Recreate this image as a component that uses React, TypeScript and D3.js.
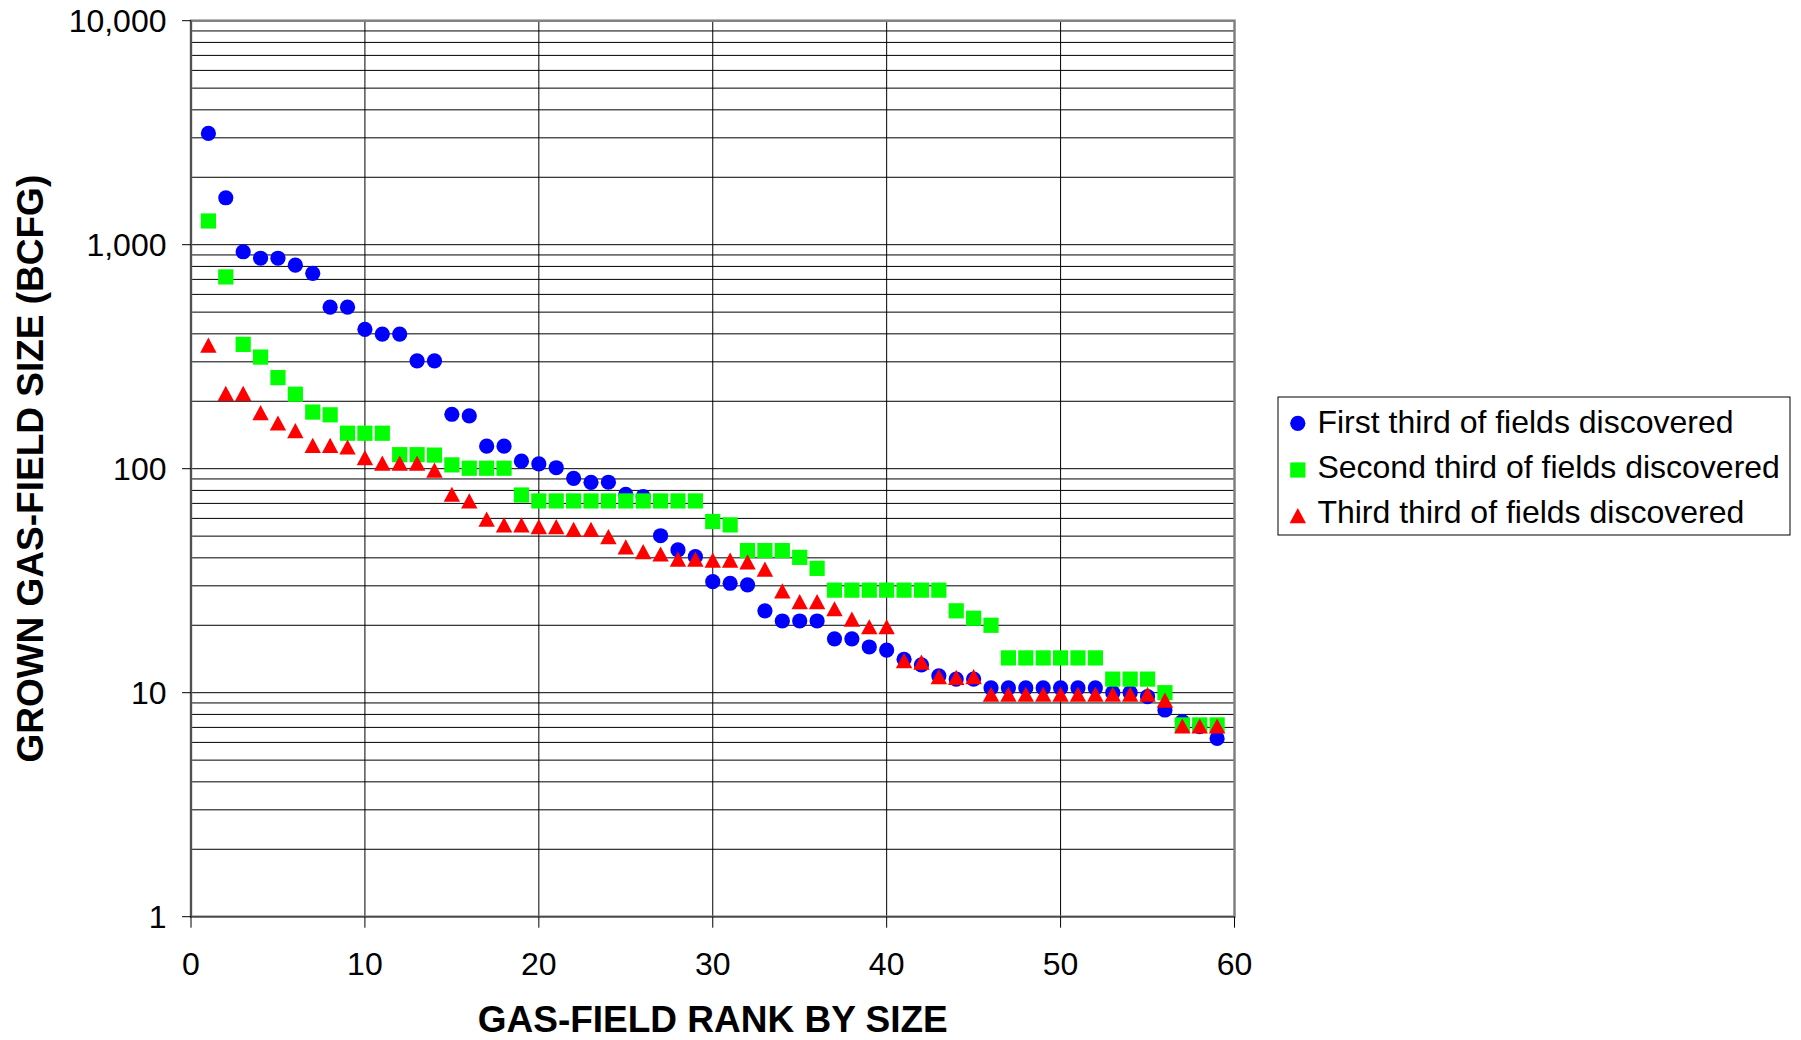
import React from "react";
import * as d3 from "d3";

const ranks: number[] = d3.range(1, 60);

const firstThird: number[] = [
  3140, 1620, 930, 870, 870, 810, 745, 526, 526, 419,
  399, 399, 303, 303, 175, 172, 126, 126, 108, 105,
  101, 90.6, 86.9, 87, 76.9, 75, 50.2, 43.4, 40.5, 31.3,
  30.8, 30.3, 23.2, 20.9, 20.9, 20.9, 17.4, 17.4, 16.0, 15.5,
  14.1, 13.3, 11.9, 11.5, 11.5, 10.5, 10.5, 10.5, 10.5, 10.5,
  10.5, 10.5, 10.0, 10.0, 9.6, 8.37, 7.43, 7.05, 6.25,
];

const secondThird: number[] = [
  1276, 718, 359, 315, 255, 215, 179, 174, 144, 144,
  144, 115.5, 115.5, 115, 104, 100.5, 100.5, 100.5, 76.3, 71.8,
  71.8, 71.8, 71.8, 71.8, 71.8, 71.8, 71.8, 71.8, 71.8, 58.1,
  56.1, 43.1, 43.1, 43.1, 40.2, 35.9, 28.7, 28.7, 28.7, 28.7,
  28.7, 28.7, 28.7, 23.2, 21.5, 20.0, 14.3, 14.3, 14.3, 14.3,
  14.3, 14.3, 11.5, 11.5, 11.5, 10.0, 7.18, 7.18, 7.18,
];

const thirdThird: number[] = [
  356, 217, 217, 178, 160, 148, 127, 127, 125, 112,
  106, 106, 106, 98.6, 76.9, 71.8, 59.6, 56.1, 56.1, 55.1,
  55.1, 53.6, 53.6, 49.7, 44.8, 42.6, 41.6, 39.5, 39.5, 39.1,
  39.1, 38.4, 35.6, 28.5, 25.5, 25.5, 23.7, 21.3, 19.7, 19.7,
  13.9, 13.7, 11.8, 11.7, 11.8, 9.84, 9.84, 9.84, 9.84, 9.84,
  9.84, 9.84, 9.84, 9.84, 9.84, 9.27, 7.1, 7.1, 7.1,
];

const seriesNames: string[] = [
  "First third of fields discovered",
  "Second third of fields discovered",
  "Third third of fields discovered",
];

const xTicks: number[] = [0, 10, 20, 30, 40, 50, 60];
const yTicks: number[] = [1, 10, 100, 1000, 10000];
const yTickLabels: string[] = ["1", "10", "100", "1,000", "10,000"];

const xTitle = "GAS-FIELD RANK BY SIZE";
const yTitle = "GROWN GAS-FIELD SIZE (BCFG)";

const FONT = "'Liberation Sans', Arial, Helvetica, sans-serif";

function Marker({ shape, cx, cy, color }: { shape: string; cx: number; cy: number; color: string }) {
  if (shape === "circle") return <circle cx={cx} cy={cy} r={7.6} fill={color} />;
  if (shape === "square") return <rect x={cx - 7.6} y={cy - 7.6} width={15.2} height={15.2} fill={color} />;
  const w = 8.2;
  const h = 7.6;
  return <path d={`M${cx},${cy - h} L${cx + w},${cy + h} L${cx - w},${cy + h} Z`} fill={color} />;
}

export default function App() {
  const W = 1801;
  const H = 1040;
  const left = 191;
  const right = 1234.5;
  const top = 20.7;
  const bottom = 916.7;

  const x = d3.scaleLinear().domain([0, 60]).range([left, right]);
  const y = d3.scaleLog().domain([1, 10000]).range([bottom, top]);

  const minorY: number[] = [];
  for (let k = 0; k < 4; k++) {
    for (let m = 1; m <= 9; m++) minorY.push(m * Math.pow(10, k));
  }
  minorY.push(10000);

  const series = [
    { name: seriesNames[0], values: firstThird, color: "#0000FF", shape: "circle" },
    { name: seriesNames[1], values: secondThird, color: "#00FF00", shape: "square" },
    { name: seriesNames[2], values: thirdThird, color: "#FF0000", shape: "triangle" },
  ];

  const legendRowY = [423.3, 470, 515.7];
  const legendBase = [433.3, 478, 523.3];

  return (
    <svg
      width={W}
      height={H}
      style={{ position: "absolute", left: 0, top: 0, display: "block", background: "#fff" }}
      fontFamily={FONT}
    >
      <rect x={0} y={0} width={W} height={H} fill="#fff" />
      {minorY.map((v, i) => (
        <line key={"hg" + i} x1={left} x2={right} y1={y(v)} y2={y(v)} stroke="#000" strokeWidth={1} />
      ))}
      {xTicks.slice(1, -1).map((t) => (
        <line key={"vg" + t} x1={x(t)} x2={x(t)} y1={top} y2={bottom} stroke="#000" strokeWidth={1} />
      ))}
      <rect x={left} y={top} width={right - left} height={bottom - top} fill="none" stroke="#808080" strokeWidth={2.5} />
      <line x1={left} x2={left} y1={top} y2={bottom} stroke="#404040" strokeWidth={1.5} />
      <line x1={left} x2={right} y1={bottom} y2={bottom} stroke="#404040" strokeWidth={1} />

      {yTicks.map((t, i) => (
        <g key={"yt" + t}>
          <line x1={left - 9} x2={left} y1={y(t)} y2={y(t)} stroke="#000" strokeWidth={1} />
          <text x={166.5} y={y(t) + 11.5} fontSize={32} textAnchor="end" fill="#000">
            {yTickLabels[i]}
          </text>
        </g>
      ))}
      {xTicks.map((t) => (
        <g key={"xt" + t}>
          <line x1={x(t)} x2={x(t)} y1={bottom} y2={bottom + 11} stroke="#000" strokeWidth={1} />
          <text x={x(t)} y={975} fontSize={32} textAnchor="middle" fill="#000">
            {t}
          </text>
        </g>
      ))}

      {series.map((s) => (
        <g key={s.name}>
          {s.values.map((v, i) => (
            <Marker key={i} shape={s.shape} cx={x(ranks[i])} cy={y(v)} color={s.color} />
          ))}
        </g>
      ))}

      <text x={x(30)} y={1032} fontSize={37} fontWeight="bold" textAnchor="middle" fill="#000">
        {xTitle}
      </text>
      <text
        transform={`translate(43, ${(top + bottom) / 2}) rotate(-90)`}
        fontSize={37}
        fontWeight="bold"
        textAnchor="middle"
        fill="#000"
      >
        {yTitle}
      </text>

      <rect x={1278} y={397} width={512} height={138} fill="#fff" stroke="#000" strokeWidth={1} />
      {series.map((s, i) => (
        <g key={"lg" + i}>
          <Marker shape={s.shape} cx={1297.8} cy={legendRowY[i]} color={s.color} />
          <text x={1317.4} y={legendBase[i]} fontSize={32} fill="#000">
            {s.name}
          </text>
        </g>
      ))}
    </svg>
  );
}
